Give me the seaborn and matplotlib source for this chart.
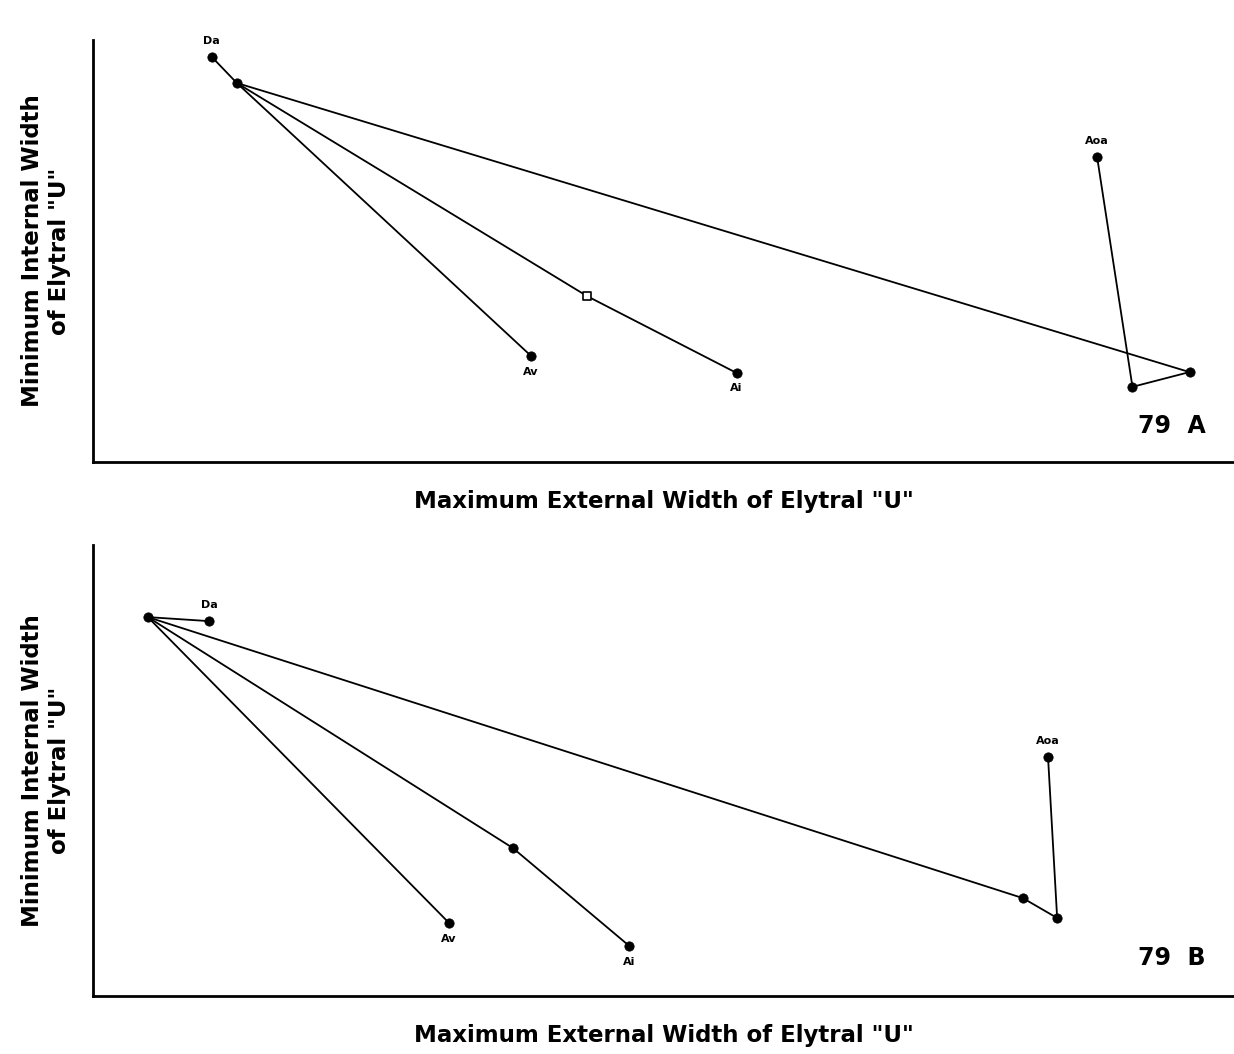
import pandas as pd
import seaborn as sns
import matplotlib.pyplot as plt

# Node positions (arbitrary units, 0-100 on both axes)
# Panel 79 A
a_names = ['Da', 'n1', 'Av', 'n2', 'Ai', 'n3', 'n4', 'Aoa']
a_x = [10.4, 12.6, 38.4, 43.3, 56.4, 96.1, 91.1, 88.0]
a_y = [96.0, 89.8, 25.1, 39.3, 21.1, 21.3, 17.8, 72.3]
a_open = ['n2']  # hollow marker
a_edges = [('Da', 'n1'), ('n1', 'Av'), ('n1', 'n2'), ('n2', 'Ai'),
           ('n1', 'n3'), ('n3', 'n4'), ('n4', 'Aoa')]

# Panel 79 B
b_names = ['root', 'Da', 'Av', 'm1', 'Ai', 'm2', 'm3', 'Aoa']
b_x = [4.8, 10.2, 31.2, 36.8, 47.0, 81.5, 84.5, 83.7]
b_y = [84.0, 83.1, 16.2, 32.8, 11.1, 21.7, 17.3, 53.0]
b_open = []
b_edges = [('root', 'Da'), ('root', 'Av'), ('root', 'm1'), ('m1', 'Ai'),
           ('root', 'm2'), ('m2', 'm3'), ('m3', 'Aoa')]

labelled = ['Da', 'Av', 'Ai', 'Aoa']
xlabel = 'Maximum External Width of Elytral "U"'
ylabel = 'Minimum Internal Width\nof Elytral "U"'

sns.set_style('white')
plt.rcParams['font.family'] = ['DejaVu Sans']
plt.rcParams['text.color'] = 'black'
plt.rcParams['axes.labelcolor'] = 'black'

fig = plt.figure(figsize=(12.34, 10.54), dpi=100)
ax_a = fig.add_axes([0.0754, 0.5617, 0.9246, 0.4004])
ax_b = fig.add_axes([0.0754, 0.055, 0.9246, 0.428])


def draw_panel(ax, names, xs, ys, edges, hollow, tag):
    nodes = pd.DataFrame({'name': names, 'x': xs, 'y': ys}).set_index('name')
    rows = []
    for i, (p, q) in enumerate(edges):
        for n in (p, q):
            rows.append({'seg': i, 'x': nodes.loc[n, 'x'], 'y': nodes.loc[n, 'y']})
    segs = pd.DataFrame(rows)
    sns.lineplot(data=segs, x='x', y='y', units='seg', estimator=None, sort=False,
                 color='black', linewidth=1.3, ax=ax, legend=False)
    pts = nodes.reset_index()
    filled = pts[~pts['name'].isin(hollow)]
    open_pts = pts[pts['name'].isin(hollow)]
    sns.scatterplot(data=filled, x='x', y='y', color='black', s=45,
                    edgecolor='black', ax=ax, legend=False, zorder=3)
    if len(open_pts):
        sns.scatterplot(data=open_pts, x='x', y='y', color='white', s=40, marker='s',
                        edgecolor='black', linewidth=1.2, ax=ax, legend=False, zorder=3)
    for name, r in nodes.iterrows():
        if name not in labelled:
            continue
        if name in ('Da', 'Aoa'):
            ax.text(r['x'], r['y'] + 2.5, name, ha='center', va='bottom',
                    fontsize=8, fontweight='bold')
        else:
            ax.text(r['x'], r['y'] - 2.5, name, ha='center', va='top',
                    fontsize=8, fontweight='bold')
    ax.text(97.5, 8.5, tag, ha='right', va='center', fontsize=17, fontweight='bold')
    ax.set_xlim(0, 100)
    ax.set_ylim(0, 100)
    ax.set_xticks([])
    ax.set_yticks([])
    ax.set_xlabel(xlabel, fontsize=16.5, fontweight='bold', labelpad=20)
    ax.set_ylabel(ylabel, fontsize=16.5, fontweight='bold', labelpad=16)
    for s in ('top', 'right'):
        ax.spines[s].set_visible(False)
    for s in ('left', 'bottom'):
        ax.spines[s].set_color('black')
        ax.spines[s].set_linewidth(2)


draw_panel(ax_a, a_names, a_x, a_y, a_edges, a_open, '79  A')
draw_panel(ax_b, b_names, b_x, b_y, b_edges, b_open, '79  B')

fig.savefig('out.png', dpi=100, facecolor='white')
